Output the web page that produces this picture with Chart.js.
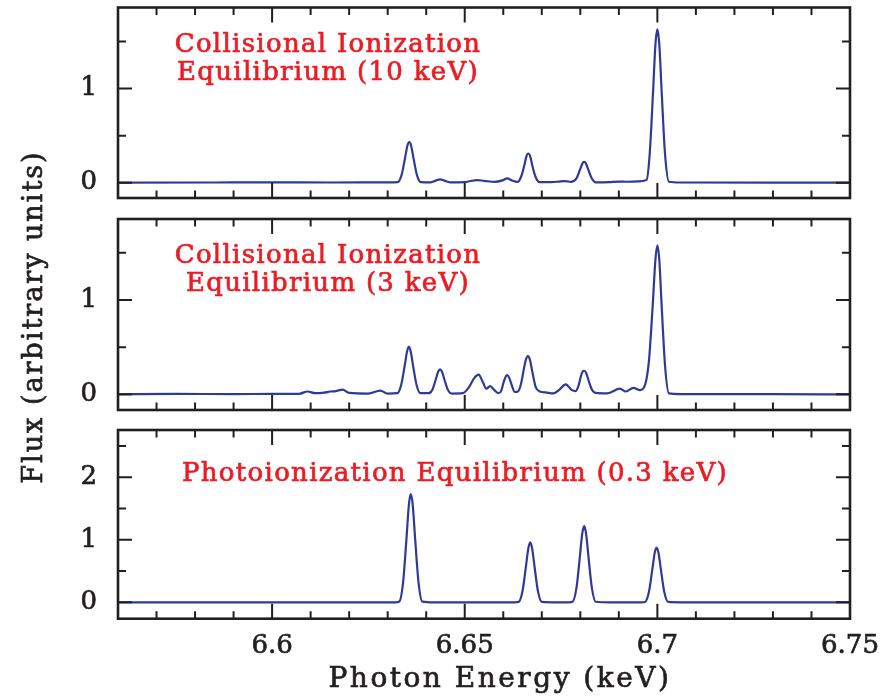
<!DOCTYPE html>
<html>
<head>
<meta charset="utf-8">
<script src="https://cdn.jsdelivr.net/npm/chart.js@4.4.1/dist/chart.umd.min.js"></script>
<style>
  html, body { margin: 0; padding: 0; background: #fff; }
  #wrap { position: relative; width: 884px; height: 700px; }
  #wrap canvas { position: absolute; left: 0; top: 0; }
</style>
</head>
<body>
<div id="wrap">
  <canvas id="p1" width="884" height="700"></canvas>
  <canvas id="p2" width="884" height="700"></canvas>
  <canvas id="p3" width="884" height="700"></canvas>
</div>
<script>
// Collisional ionization equilibrium, kT = 10 keV
const cie10Energy = [
  6.5600, 6.5850, 6.6000, 6.6150, 6.6300,
  6.6326, 6.6336, 6.6345, 6.6351, 6.6356, 6.6361, 6.6367, 6.6376, 6.6386,
  6.6412, 6.6425, 6.6436, 6.6447, 6.6462,
  6.6500, 6.6515, 6.6532, 6.6550, 6.6578,
  6.6598, 6.6610, 6.6622,
  6.6637, 6.6646, 6.6655, 6.6660, 6.6665, 6.6670, 6.6675, 6.6684, 6.6694,
  6.6725, 6.6745, 6.6760, 6.6775,
  6.6790, 6.6799, 6.6805, 6.6810, 6.6815, 6.6821, 6.6830, 6.6840,
  6.6875, 6.6900, 6.6920, 6.6950,
  6.6972, 6.6980, 6.6989, 6.6995, 6.7000, 6.7005, 6.7011, 6.7020, 6.7030,
  6.7060, 6.7300, 6.7500
];
const cie10Flux = [
  0, 0.002, 0.003, 0.002, 0.003,
  0.006, 0.08, 0.26, 0.39, 0.43, 0.39, 0.26, 0.08, 0.006,
  0.004, 0.022, 0.036, 0.022, 0.004,
  0.006, 0.018, 0.027, 0.02, 0.008,
  0.024, 0.045, 0.024,
  0.008, 0.06, 0.19, 0.28, 0.31, 0.28, 0.19, 0.06, 0.006,
  0.006, 0.012, 0.016, 0.008,
  0.045, 0.135, 0.2, 0.22, 0.2, 0.135, 0.045, 0.004,
  0.006, 0.012, 0.01, 0.013,
  0.03, 0.3, 0.98, 1.47, 1.63, 1.47, 0.98, 0.3, 0.01,
  0.002, 0.001, 0
];

// Collisional ionization equilibrium, kT = 3 keV
const cie3Energy = [
  6.5600, 6.5750, 6.5900, 6.6000, 6.6070,
  6.6092, 6.6112, 6.6135, 6.6151, 6.6165, 6.6183, 6.6200,
  6.6250, 6.6281, 6.6300,
  6.6325, 6.6335, 6.6344, 6.6350, 6.6355, 6.6360, 6.6366, 6.6375, 6.6385,
  6.6406, 6.6416, 6.6425, 6.6431, 6.6436, 6.6441, 6.6447, 6.6456, 6.6466,
  6.6495, 6.6510, 6.6525, 6.6536, 6.6547, 6.6556, 6.6566, 6.6577, 6.6588,
  6.6595, 6.6601, 6.6606, 6.6610, 6.6615, 6.6621, 6.6630,
  6.6638, 6.6646, 6.6654, 6.6659, 6.6664, 6.6669, 6.6675, 6.6684, 6.6695,
  6.6710, 6.6730, 6.6746, 6.6762, 6.6778, 6.6788,
  6.6796, 6.6802, 6.6806, 6.6810, 6.6815, 6.6822, 6.6830, 6.6840,
  6.6870, 6.6903, 6.6918, 6.6938, 6.6955, 6.6968,
  6.6978, 6.6988, 6.6995, 6.7000, 6.7005, 6.7011, 6.7020, 6.7030,
  6.7060, 6.7300, 6.7500
];
const cie3Flux = [
  0, 0.005, 0.002, 0.005, 0.006,
  0.03, 0.012, 0.018, 0.03, 0.035, 0.05, 0.015,
  0.008, 0.04, 0.008,
  0.012, 0.1, 0.3, 0.45, 0.505, 0.45, 0.3, 0.1, 0.012,
  0.012, 0.05, 0.16, 0.24, 0.265, 0.24, 0.16, 0.05, 0.008,
  0.012, 0.07, 0.175, 0.21, 0.13, 0.06, 0.088, 0.045, 0.012,
  0.04, 0.13, 0.185, 0.205, 0.18, 0.11, 0.025,
  0.03, 0.11, 0.28, 0.37, 0.405, 0.37, 0.25, 0.08, 0.03,
  0.02, 0.01, 0.05, 0.105, 0.045, 0.035,
  0.1, 0.2, 0.24, 0.25, 0.23, 0.14, 0.05, 0.015,
  0.01, 0.06, 0.03, 0.068, 0.045, 0.1,
  0.35, 0.95, 1.43, 1.58, 1.43, 0.95, 0.3, 0.01,
  0.003, 0.002, 0
];

// Photoionization equilibrium, kT = 0.3 keV
const pieEnergy = [
  6.5600, 6.6000, 6.6320,
  6.6330, 6.6340, 6.6349, 6.6355, 6.6360, 6.6365, 6.6371, 6.6380, 6.6390,
  6.6420, 6.6630,
  6.6640, 6.6650, 6.6659, 6.6665, 6.6670, 6.6675, 6.6681, 6.6690, 6.6700,
  6.6740, 6.6770,
  6.6780, 6.6790, 6.6799, 6.6805, 6.6810, 6.6815, 6.6821, 6.6830, 6.6840,
  6.6880, 6.6958,
  6.6968, 6.6978, 6.6987, 6.6993, 6.6998, 6.7003, 6.7009, 6.7018, 6.7028,
  6.7060, 6.7500
];
const pieFlux = [
  0, 0, 0,
  0.012, 0.32, 1.04, 1.56, 1.73, 1.56, 1.04, 0.32, 0.012,
  0, 0,
  0.007, 0.18, 0.58, 0.86, 0.96, 0.86, 0.58, 0.18, 0.007,
  0, 0,
  0.009, 0.23, 0.74, 1.1, 1.22, 1.1, 0.74, 0.23, 0.009,
  0, 0,
  0.006, 0.165, 0.53, 0.79, 0.875, 0.79, 0.53, 0.165, 0.006,
  0, 0
];

const energyTickLabels = ['6.6', '6.65', '6.7', '6.75'];
const cie10Label = ['Collisional Ionization', 'Equilibrium (10 keV)'];
const cie3Label = ['Collisional Ionization', 'Equilibrium (3 keV)'];
const pieLabel = ['Photoionization Equilibrium (0.3 keV)'];

const INK = '#231f20';
const LINE = '#2e3a96';
const RED = '#ec1c24';
const FONT = '"DejaVu Serif", serif';

// text drawn a little heavier, like the original's type
function heavyText(ctx, s, x, y, color) {
  ctx.fillStyle = color;
  ctx.strokeStyle = color;
  ctx.lineWidth = 0.7;
  ctx.fillText(s, x, y);
  ctx.strokeText(s, x, y);
}

// box round each panel with inward ticks on all four sides, plus the texts
const framePlugin = {
  id: 'frame',
  afterDraw(chart, args, opts) {
    const { ctx, chartArea: a, scales: { x, y } } = chart;
    ctx.save();
    ctx.strokeStyle = INK;
    ctx.lineWidth = 2;
    ctx.beginPath();
    x.ticks.forEach(t => {
      const px = x.getPixelForValue(t.value);
      const major = Math.abs(t.value * 20 - Math.round(t.value * 20)) < 1e-6;
      const len = major ? 15 : 7.5;
      ctx.moveTo(px, a.bottom); ctx.lineTo(px, a.bottom - len);
      ctx.moveTo(px, a.top); ctx.lineTo(px, a.top + len);
    });
    y.ticks.forEach(t => {
      const py = y.getPixelForValue(t.value);
      const len = Number.isInteger(t.value) ? 14 : 8;
      ctx.moveTo(a.left, py); ctx.lineTo(a.left + len, py);
      ctx.moveTo(a.right, py); ctx.lineTo(a.right - len, py);
    });
    ctx.stroke();
    ctx.lineWidth = 2.6;
    ctx.strokeRect(a.left, a.top, a.right - a.left, a.bottom - a.top);

    ctx.font = '26px ' + FONT;
    ctx.letterSpacing = '1.3px';
    ctx.textAlign = 'center';
    ctx.textBaseline = 'alphabetic';
    opts.notes.forEach((s, i) => heavyText(ctx, s, opts.noteX, opts.noteY + i * 28, RED));

    if (opts.xTitle) {
      ctx.font = '28px ' + FONT;
      ctx.letterSpacing = '2.5px';
      heavyText(ctx, opts.xTitle, 500, 687, INK);
    }
    if (opts.yTitle) {
      ctx.font = '27px ' + FONT;
      ctx.letterSpacing = '2px';
      ctx.translate(42, 317);
      ctx.rotate(-Math.PI / 2);
      heavyText(ctx, opts.yTitle, 0, 0, INK);
    }
    ctx.restore();
  }
};

function makePanel(id, energy, flux, yMin, yMax, pad, xHeight, frame) {
  const showX = xHeight > 0;
  return new Chart(document.getElementById(id), {
    type: 'line',
    data: {
      datasets: [{
        data: energy.map((e, i) => ({ x: e, y: flux[i] })),
        borderColor: LINE,
        borderWidth: 2.2,
        pointRadius: 0,
        cubicInterpolationMode: 'monotone',
        fill: false
      }]
    },
    options: {
      responsive: false,
      animation: false,
      events: [],
      layout: { padding: pad },
      plugins: { legend: { display: false }, tooltip: { enabled: false }, frame },
      scales: {
        x: {
          type: 'linear',
          min: 6.56,
          max: 6.75,
          grid: { display: false, drawTicks: false },
          border: { display: false },
          ticks: {
            display: showX,
            stepSize: 0.01,
            autoSkip: false,
            maxRotation: 0,
            padding: 12,
            color: INK,
            textStrokeColor: INK,
            textStrokeWidth: 0.7,
            font: { family: FONT, size: 26 },
            callback: v => {
              const s = String(Math.round(v * 100) / 100);
              return energyTickLabels.includes(s) ? s : '';
            }
          },
          afterFit(s) { s.height = xHeight; s.paddingLeft = 0; s.paddingRight = 0; }
        },
        y: {
          min: yMin,
          max: yMax,
          grid: { display: false, drawTicks: false },
          border: { display: false },
          ticks: {
            stepSize: 0.5,
            includeBounds: false,
            autoSkip: false,
            padding: 21,
            color: INK,
            textStrokeColor: INK,
            textStrokeWidth: 0.7,
            font: { family: FONT, size: 26 },
            callback: v => Number.isInteger(v) ? String(v) : ''
          },
          afterFit(s) { s.width = 118; s.paddingTop = 0; s.paddingBottom = 0; }
        }
      }
    },
    plugins: [framePlugin]
  });
}

makePanel('p1', cie10Energy, cie10Flux, -0.163, 1.862,
  { left: 0, right: 34, top: 7.5, bottom: 502 }, 0,
  { notes: cie10Label, noteX: 328, noteY: 52 });
makePanel('p2', cie3Energy, cie3Flux, -0.166, 1.859,
  { left: 0, right: 34, top: 219, bottom: 290 }, 0,
  { notes: cie3Label, noteX: 328, noteY: 263, yTitle: 'Flux (arbitrary units)' });
makePanel('p3', pieEnergy, pieFlux, -0.262, 2.757,
  { left: 0, right: 34, top: 430, bottom: 0 }, 81.3,
  { notes: pieLabel, noteX: 455, noteY: 481, xTitle: 'Photon Energy (keV)' });
</script>
</body>
</html>
